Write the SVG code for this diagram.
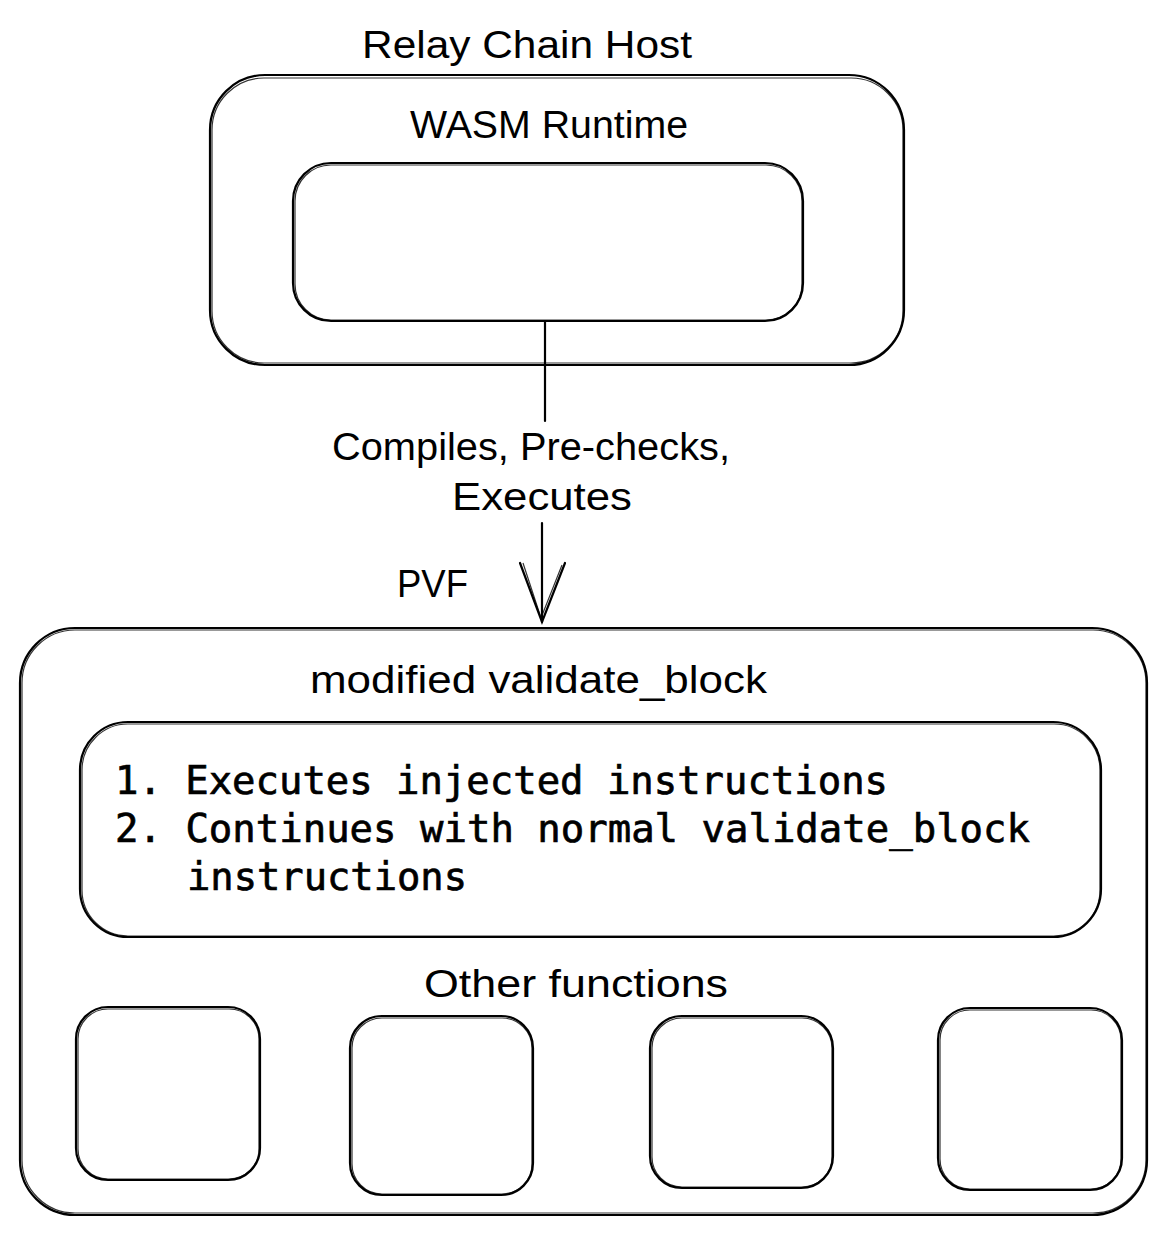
<svg xmlns="http://www.w3.org/2000/svg" width="1167" height="1234" viewBox="0 0 1167 1234">
<style>
.box{fill:none;stroke:#000;stroke-width:2.2}
.sk{fill:none;stroke:#000;stroke-width:1.2;opacity:0.8}
.hand{font-family:"Liberation Sans","DejaVu Sans",sans-serif;font-size:38px;fill:#000}
.mono{font-family:"DejaVu Sans Mono","Liberation Mono",monospace;font-size:39px;font-weight:normal;fill:#000;stroke:#000;stroke-width:0.7}
.line{stroke:#000;stroke-width:2.2;fill:none;stroke-linecap:round}
</style>
<rect width="1167" height="1234" fill="#fff"/>
<g id="relay-chain-host">
<rect class="box" x="210" y="75" width="694" height="290" rx="55"/>
<rect class="sk" x="212" y="78" width="691" height="285" rx="52"/>
<text class="hand" x="362" y="58" textLength="330" lengthAdjust="spacingAndGlyphs">Relay Chain Host</text>
<text class="hand" x="410" y="138" textLength="278" lengthAdjust="spacingAndGlyphs">WASM Runtime</text>
</g>
<g id="wasm-runtime">
<rect class="box" x="293" y="163" width="510" height="158" rx="38"/>
<rect class="sk" x="295" y="165" width="507" height="155" rx="36"/>
</g>
<g id="connectors">
<line class="line" x1="545" y1="321" x2="545" y2="421"/>
<line class="line" x1="542" y1="523" x2="542" y2="622"/>
<path class="line" d="M520 563 L542 622 L565 563"/>
<path class="sk" d="M523 563 L541 618 L562 565"/>
<text class="hand" x="332" y="460" textLength="398" lengthAdjust="spacingAndGlyphs">Compiles, Pre-checks,</text>
<text class="hand" x="452" y="510" textLength="180" lengthAdjust="spacingAndGlyphs">Executes</text>
<text class="hand" x="397" y="597" textLength="71" lengthAdjust="spacingAndGlyphs">PVF</text>
</g>
<g id="pvf">
<rect class="box" x="20" y="628" width="1127" height="587" rx="55"/>
<rect class="sk" x="22" y="630" width="1124" height="583" rx="53"/>
<text class="hand" x="310" y="693" textLength="457" lengthAdjust="spacingAndGlyphs">modified validate_block</text>
<text class="hand" x="424" y="997" textLength="304" lengthAdjust="spacingAndGlyphs">Other functions</text>
</g>
<g id="validate-block">
<rect class="box" x="80" y="722" width="1021" height="215" rx="48"/>
<rect class="sk" x="82" y="724" width="1018" height="212" rx="46"/>
<text class="mono" x="115" y="794" textLength="773" lengthAdjust="spacingAndGlyphs">1. Executes injected instructions</text>
<text class="mono" x="115" y="842" textLength="915" lengthAdjust="spacingAndGlyphs">2. Continues with normal validate_block</text>
<text class="mono" x="187" y="890" textLength="280" lengthAdjust="spacingAndGlyphs">instructions</text>
</g>
<g id="function-1">
<rect class="box" x="76" y="1007" width="184" height="173" rx="32"/>
<rect class="sk" x="78" y="1009" width="181" height="170" rx="30"/>
</g>
<g id="function-2">
<rect class="box" x="350" y="1016" width="183" height="179" rx="32"/>
<rect class="sk" x="352" y="1018" width="180" height="176" rx="30"/>
</g>
<g id="function-3">
<rect class="box" x="650" y="1016" width="183" height="172" rx="32"/>
<rect class="sk" x="652" y="1018" width="180" height="169" rx="30"/>
</g>
<g id="function-4">
<rect class="box" x="938" y="1008" width="184" height="182" rx="32"/>
<rect class="sk" x="940" y="1010" width="181" height="179" rx="30"/>
</g>
</svg>
